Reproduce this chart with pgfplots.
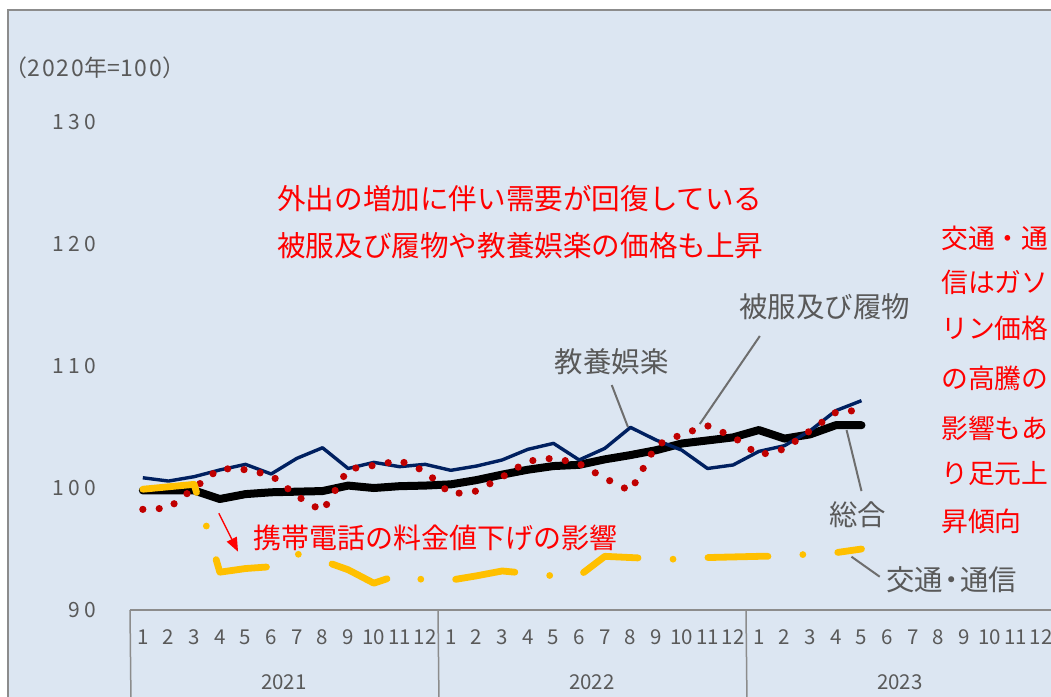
\documentclass[border=0pt]{standalone}
\usepackage{fontspec}
\setmainfont{Noto Sans CJK JP}
\usepackage{pgfplots}
\usepackage{pgfplotstable}
\pgfplotsset{compat=1.18}
\usetikzlibrary{arrows.meta}
\definecolor{bgblue}{HTML}{DCE6F2}
\definecolor{navy}{HTML}{002060}
\definecolor{dred}{HTML}{C00000}
\definecolor{gold}{HTML}{FFC000}
\definecolor{txtgray}{HTML}{595959}
\definecolor{linegray}{HTML}{6E6E6E}
\definecolor{framegray}{HTML}{8C8C8C}
\newcommand\fs[1]{\fontsize{#1}{#1}\selectfont}

\pgfplotstableread{
i sogo kyoyo hifuku kotsu
0  99.8  100.84 98.25 99.9
1  99.8  100.57 98.35 100.1
2  99.8  100.93 100.0 100.3
3  99.1  101.48 101.6 93.1
4  99.5  101.94 101.5 93.4
5  99.65 101.15 101.05 93.55
6  99.7  102.43 99.35 94.6
7  99.75 103.30 98.1  94.05
8  100.2 101.60 101.55 93.3
9  100.0 102.10 101.85 92.2
10 100.15 101.75 102.25 92.9
11 100.2 101.94 101.37 92.45
12 100.3 101.45 99.5  92.45
13 100.65 101.80 99.75 92.8
14 101.1 102.30 100.9 93.2
15 101.5 103.17 102.2 93.0
16 101.8 103.66 102.45 92.8
17 101.9 102.30 102.0 92.8
18 102.35 103.25 100.8 94.4
19 102.7 104.97 99.75 94.3
20 103.1 103.93 103.5 94.2
21 103.65 103.10 104.4 94.15
22 103.9 101.60 105.1 94.3
23 104.15 101.89 104.2 94.35
24 104.75 103.00 102.7 94.4
25 104.05 103.47 103.2 94.4
26 104.4 104.70 104.7 94.6
27 105.15 106.34 106.2 94.7
28 105.15 107.16 106.4 95.0
}\data

\begin{document}
\begin{tikzpicture}
\useasboundingbox (0,0) rectangle (525.5pt,348.5pt);
\clip (0,0) rectangle (525.5pt,348.5pt);
\fill[white] (0,0) rectangle (525.5pt,348.5pt);
\fill[bgblue] (4pt,0) rectangle (530pt,343.5pt);
\draw[framegray, line width=0.75pt] (4pt,-2pt) -- (4pt,343.5pt) -- (530pt,343.5pt);
\begin{axis}[
  at={(65pt,43.5pt)}, anchor=south west,
  scale only axis, width=462pt, height=244pt,
  xmin=-0.5, xmax=35.5, ymin=90, ymax=130,
  clip=false,
  axis line style={draw=none},
  major tick length=0pt,
  /pgf/number format/assume math mode=true,
  ytick={90,100,110,120,130},
  yticklabels={9\kern2.2pt0,1\kern2.2pt0\kern2.2pt0,1\kern2.2pt1\kern2.2pt0,1\kern2.2pt2\kern2.2pt0,1\kern2.2pt3\kern2.2pt0},
  yticklabel style={font=\fs{10.5}, text=txtgray, anchor=east, inner sep=0pt, xshift=-16.5pt},
  xtick={0,...,35},
  xticklabels={1,2,3,4,5,6,7,8,9,10,11,12,1,2,3,4,5,6,7,8,9,10,11,12,1,2,3,4,5,6,7,8,9,10,11,12},
  xticklabel style={font=\fs{10.25}, text=txtgray, anchor=center, inner sep=0pt, yshift=-13.5pt},
]
% category axis frame
\draw[framegray, line width=0.75pt] (axis cs:-0.5,90) -- (axis cs:36,90);
\draw[framegray, line width=0.75pt] (axis cs:-0.5,90) -- ++(0,-50pt);
\draw[framegray, line width=0.75pt] (axis cs:11.5,90) -- ++(0,-50pt);
\draw[framegray, line width=0.75pt] (axis cs:23.5,90) -- ++(0,-50pt);
\draw[framegray, line width=0.75pt] (axis cs:35.5,90) -- ++(0,-50pt);
\node[font=\fs{10.25}, text=txtgray, yshift=-36pt] at (axis cs:5.5,90) {2021};
\node[font=\fs{10.25}, text=txtgray, yshift=-36pt] at (axis cs:17.5,90) {2022};
\node[font=\fs{10.25}, text=txtgray, yshift=-36pt] at (axis cs:29.5,90) {2023};

% series
\addplot[black, line width=4pt, line join=round, line cap=round] table[x=i,y=sogo] {\data};
\addplot[navy, line width=1.7pt, line join=round] table[x=i,y=kyoyo] {\data};
\addplot[dred, line width=3.6pt, line cap=round, line join=round, dash pattern=on 0pt off 8.2pt] table[x=i,y=hifuku] {\data};
\addplot[gold, line width=3.4pt, line cap=round, line join=round, dash pattern=on 30pt off 17.5pt on 0pt off 17.5pt] table[x=i,y=kotsu] {\data};

% gray labels and leaders
\draw[linegray, line width=1pt] (axis cs:18.27,108.44) -- (axis cs:18.9,105.0);
\draw[linegray, line width=1pt] (axis cs:24.04,112.46) -- (axis cs:21.7,105.25);
\draw[linegray, line width=1pt] (axis cs:27.42,104.75) -- (axis cs:28.0,99.75);
\draw[linegray, line width=1pt] (axis cs:27.61,94.37) -- (axis cs:28.71,92.73);
\node[font=\fs{14.2}, text=txtgray] at (axis cs:18.27,110.33) {教養娯楽};
\node[font=\fs{14.2}, text=txtgray] at (axis cs:26.57,114.84) {被服及び履物};
\node[font=\fs{14.2}, text=txtgray] at (axis cs:27.86,97.79) {総合};
\node[font=\fs{14.2}, text=txtgray] at (axis cs:31.52,92.46) {交通\kern-0.2em・\kern-0.2em通信};

% red annotations
\node[font=\fs{14.3}, text=red, anchor=west, inner sep=0pt] at (axis cs:5.22,123.69) {外出の増加に伴い需要が回復している};
\node[font=\fs{14.3}, text=red, anchor=west, inner sep=0pt] at (axis cs:5.22,119.84) {被服及び履物や教養娯楽の価格も上昇};
\node[font=\fs{14}, text=red, anchor=west, inner sep=0pt] at (axis cs:4.29,95.9) {携帯電話の料金値下げの影響};
\draw[red, line width=0.7pt, -{Triangle[length=7pt,width=5.5pt]}] (axis cs:2.96,97.93) -- (axis cs:3.71,94.78);
\node[font=\fs{13.4}, text=red, anchor=west, inner sep=0pt] at (axis cs:31.09,120.49) {交通・通};
\node[font=\fs{13.4}, text=red, anchor=west, inner sep=0pt] at (axis cs:31.09,116.88) {信はガソ};
\node[font=\fs{13.4}, text=red, anchor=west, inner sep=0pt] at (axis cs:31.09,113.11) {リン価格};
\node[font=\fs{13.4}, text=red, anchor=west, inner sep=0pt] at (axis cs:31.09,109.02) {の高騰の};
\node[font=\fs{13.4}, text=red, anchor=west, inner sep=0pt] at (axis cs:31.09,104.92) {影響もあ};
\node[font=\fs{13.4}, text=red, anchor=west, inner sep=0pt] at (axis cs:31.09,101.15) {り足元上};
\node[font=\fs{13.4}, text=red, anchor=west, inner sep=0pt] at (axis cs:31.09,97.3) {昇傾向};
\end{axis}
\node[font=\fs{11.5}, text=txtgray, anchor=west, inner sep=0pt] at (2pt,314.5pt) {（2\kern1pt0\kern1pt2\kern1pt0年=1\kern1pt0\kern1pt0）};
\end{tikzpicture}
\end{document}
